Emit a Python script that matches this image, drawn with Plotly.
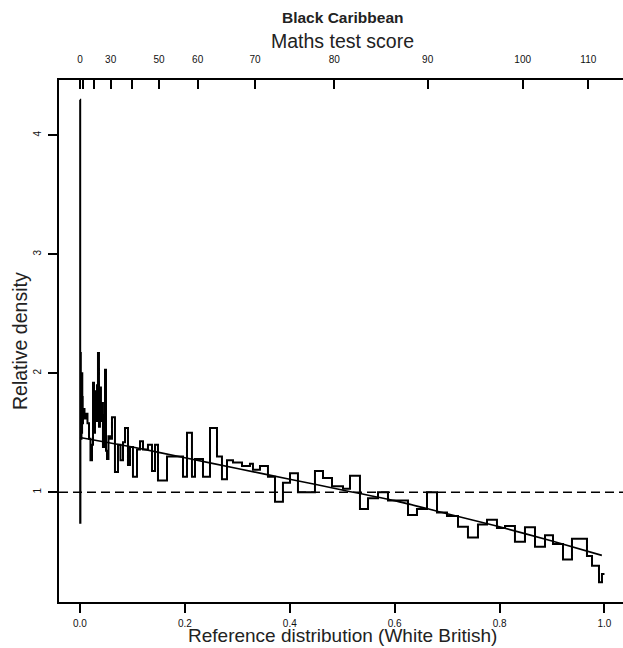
import plotly.graph_objects as go

# ---- data ----
# relative-density histogram: proportion of reference distribution where each step starts, and its height
step_start = [0.0000, 0.0004, 0.0008, 0.0012, 0.0016, 0.0020, 0.0024, 0.0028, 0.0032, 0.0036,
              0.0040, 0.0044, 0.0048, 0.0052,
              0.0057, 0.0086, 0.0114, 0.0143, 0.0172, 0.0200, 0.0229,
              0.0248, 0.0267, 0.0286, 0.0305, 0.0324, 0.0343, 0.0362, 0.0381, 0.0400, 0.0419,
              0.0438, 0.0458, 0.0477, 0.0496, 0.0515, 0.0543, 0.0572, 0.0610,
              0.0667, 0.0725, 0.0772, 0.0820, 0.0858, 0.0915, 0.0953, 0.1010, 0.1087, 0.1144,
              0.1201, 0.1296, 0.1373, 0.1430, 0.1487, 0.1659, 0.1964, 0.2040, 0.2135, 0.2193,
              0.2345, 0.2479, 0.2612, 0.2707, 0.2803, 0.2917, 0.3089, 0.3241, 0.3298, 0.3432,
              0.3584, 0.3718, 0.3870, 0.4004, 0.4156, 0.4480, 0.4633, 0.4805, 0.5014, 0.5148,
              0.5338, 0.5491, 0.5682, 0.5872, 0.6254, 0.6425, 0.6616, 0.6807, 0.6997, 0.7207,
              0.7397, 0.7588, 0.7760, 0.7950, 0.8103, 0.8293, 0.8484, 0.8675, 0.8866, 0.9018,
              0.9209, 0.9380, 0.9666, 0.9762, 0.9895, 0.9952]
step_density = [4.30, 0.745, 1.60, 2.17, 1.55, 1.92, 1.45, 1.88, 1.70, 1.50,
                2.00, 1.60, 1.80, 1.58,
                1.70, 1.62, 1.66, 1.58, 1.45, 1.27, 1.40,
                1.92, 1.50, 1.85, 1.60, 1.90, 2.17, 1.55, 1.88, 1.60, 1.75,
                1.38, 1.65, 2.03, 1.35, 1.28, 1.47, 1.45, 1.63,
                1.17, 1.40, 1.27, 1.42, 1.54, 1.23, 1.38, 1.13, 1.36, 1.43,
                1.36, 1.40, 1.18, 1.40, 1.10, 1.30, 1.13, 1.50, 1.13, 1.28,
                1.13, 1.54, 1.30, 1.11, 1.27, 1.25, 1.22, 1.24, 1.19, 1.22,
                1.13, 0.92, 1.08, 1.16, 1.00, 1.18, 1.12, 1.05, 1.03, 1.14,
                0.86, 0.95, 1.00, 0.93, 0.81, 0.86, 1.00, 0.83, 0.80, 0.71,
                0.62, 0.73, 0.77, 0.70, 0.717, 0.585, 0.706, 0.543, 0.64, 0.565,
                0.435, 0.61, 0.465, 0.383, 0.244, 0.313]
step_end = 1.0

# smooth fitted relative density
curve_prop = [0.0, 0.1, 0.2, 0.3, 0.4, 0.5, 0.6, 0.7, 0.8, 0.9, 0.995]
curve_density = [1.46, 1.38, 1.29, 1.20, 1.11, 1.02, 0.93, 0.82, 0.71, 0.59, 0.47]

# top axis: maths test score quantiles of the reference distribution
score_ticks = [0, 10, 20, 30, 40, 50, 60, 70, 80, 90, 100, 110]
score_tick_prop = [0.0, 0.0051, 0.0273, 0.0585, 0.0986, 0.1506, 0.2244, 0.3337, 0.4848, 0.6629, 0.8440, 0.9691]
score_tick_shown = [True, False, False, True, False, True, True, True, True, True, True, True]

x_ticks = [0.0, 0.2, 0.4, 0.6, 0.8, 1.0]
x_tick_labels = ["0.0", "0.2", "0.4", "0.6", "0.8", "1.0"]
y_ticks = [1, 2, 3, 4]
y_tick_labels = ["1", "2", "3", "4"]

FONT = "Liberation Sans, Arial, sans-serif"
INK = "#111111"
TXT = "#222222"

fig = go.Figure()

fig.add_trace(go.Scatter(
    x=step_start + [step_end], y=step_density + [step_density[-1]],
    mode="lines", line=dict(shape="hv", color="black", width=2),
    hoverinfo="skip", showlegend=False))

fig.add_trace(go.Scatter(
    x=curve_prop, y=curve_density, mode="lines",
    line=dict(shape="spline", smoothing=0.6, color="black", width=1.6),
    hoverinfo="skip", showlegend=False))

# dummy trace to activate the top axis
fig.add_trace(go.Scatter(x=[0.5], y=[None], xaxis="x2", mode="lines",
                         showlegend=False, hoverinfo="skip"))

fig.add_shape(type="line", xref="paper", yref="y", x0=0, x1=1, y0=1, y1=1,
              line=dict(color="black", width=1.6, dash="9px,5px"))

xr = [-0.04, 1.0353]
fig.update_layout(
    width=623, height=648,
    margin=dict(l=59, r=0, t=80, b=46),
    paper_bgcolor="white", plot_bgcolor="white",
    font=dict(family=FONT, color=INK),
    xaxis=dict(range=xr, tickvals=x_ticks, ticktext=x_tick_labels,
               ticks="outside", ticklen=9, tickwidth=1.5, tickcolor="black",
               showline=True, linecolor="black", linewidth=2,
               showgrid=False, zeroline=False, tickfont=dict(size=10, color=INK),
               ticklabelstandoff=2),
    xaxis2=dict(range=xr, overlaying="x", side="top", anchor="y",
                tickvals=score_tick_prop,
                ticktext=[str(s) if show else "" for s, show in zip(score_ticks, score_tick_shown)],
                ticks="inside", ticklen=9, tickwidth=1.5, tickcolor="black",
                showline=True, linecolor="black", linewidth=2,
                showgrid=False, zeroline=False, tickfont=dict(size=10, color=INK),
                ticklabelstandoff=11),
    yaxis=dict(range=[0.078, 4.465], tickvals=y_ticks, ticktext=y_tick_labels,
               ticks="outside", ticklen=9, tickwidth=1.5, tickcolor="black",
               showline=True, linecolor="black", linewidth=2, tickangle=-90,
               showgrid=False, zeroline=False, tickfont=dict(size=10, color=INK),
               ticklabelstandoff=3),
    annotations=[
        dict(text="<b>Black Caribbean</b>", xref="paper", yref="paper", x=0.502, y=1.0,
             yshift=80 - 17, xanchor="center", yanchor="middle", showarrow=False,
             font=dict(size=15.5, color=TXT)),
        dict(text="Maths test score", xref="paper", yref="paper", x=0.502, y=1.0,
             yshift=80 - 41, xanchor="center", yanchor="middle", showarrow=False,
             font=dict(size=19.5, color=TXT)),
        dict(text="Reference distribution (White British)", xref="paper", yref="paper",
             x=0.502, y=0.0, yshift=-(647 - 602), xanchor="center", yanchor="bottom",
             showarrow=False, font=dict(size=19, color=TXT), borderpad=0),
        dict(text="Relative density", xref="paper", yref="paper", x=0.0, xshift=20 - 59,
             y=0.5, xanchor="center", yanchor="middle", textangle=-90, showarrow=False,
             font=dict(size=19.5, color=TXT)),
    ],
)

fig.write_html("out.html", config={"displayModeBar": False},
               post_script="document.body.style.margin='0';")
